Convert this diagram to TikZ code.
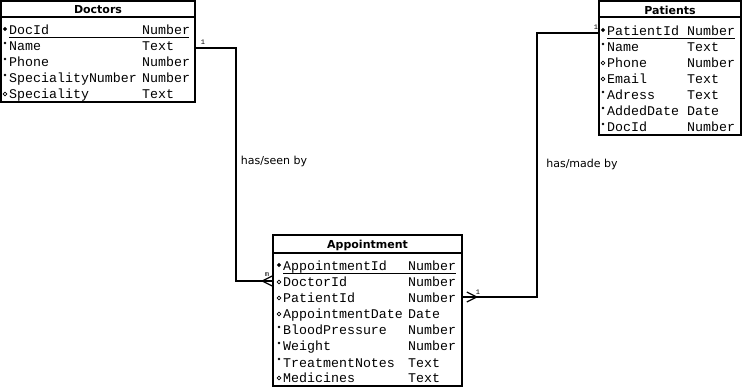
\documentclass[tikz,border=0pt]{standalone}
\usepackage{fontspec}
\setmainfont{DejaVu Sans}
\newfontfamily\codefont{Liberation Mono}
\usetikzlibrary{shapes.geometric}

\begin{document}
\begin{tikzpicture}[x=1pt,y=-1pt]
  \tikzstyle{table}=[rectangle,draw,line width=1.6pt,inner sep=0pt]
  \tikzstyle{title}=[inner sep=0pt,font=\bfseries\fontsize{11}{13}\selectfont]
  \tikzstyle{field}=[anchor=base west,inner sep=0pt,text height=8pt,text depth=2pt,font=\codefont\fontsize{13.3}{16}\selectfont]
  \tikzstyle{pk}=[diamond,fill,inner sep=0pt,minimum size=4.2pt]
  \tikzstyle{req}=[circle,fill,inner sep=0pt,minimum size=2.6pt,yshift=2pt]
  \tikzstyle{opt}=[circle,draw,line width=0.7pt,inner sep=0pt,minimum size=3.8pt,yshift=-1pt]
  \tikzstyle{rule}=[line width=1.6pt]
  \tikzstyle{link}=[line width=1.6pt]
  \tikzstyle{foot}=[line width=1.2pt]
  \tikzstyle{card}=[inner sep=0pt,font=\codefont\fontsize{7}{8}\selectfont]
  \tikzstyle{relation}=[inner sep=0pt,font=\fontsize{11}{13}\selectfont]
  \useasboundingbox (0,0) rectangle (742,387);

  % Doctors table
  \node (doctors) at (98,51.5) [table,minimum width=194pt,minimum height=101pt] {};
  \node (doctors-title) at (98,10) [title] {Doctors};
  \draw [rule] ([yshift=-17pt]doctors.north west) -- ([yshift=-17pt]doctors.north east);
  \foreach \m/\n/\t [count=\i] in {pk/DocId/Number,req/Name/Text,req/Phone/Number,
      req/SpecialityNumber/Number,opt/Speciality/Text} {
    \node (doc-m\i) at (5,13+16*\i) [\m] {};
    \node (doc-n\i) at (9,19+16*\i) [field] {\n};
    \node (doc-t\i) at (142,19+16*\i) [field] {\t};
  }
  \draw [line width=0.8pt] (doc-n1.base west) ++(0,2) -- ++(180,0);

  % Patients table
  \node (patients) at (670,68) [table,minimum width=142pt,minimum height=134pt] {};
  \node (patients-title) at (670,10) [title] {Patients};
  \draw [rule] ([yshift=-17pt]patients.north west) -- ([yshift=-17pt]patients.north east);
  \foreach \m/\n/\t [count=\i] in {pk/PatientId/Number,req/Name/Text,opt/Phone/Number,
      opt/Email/Text,req/Adress/Text,req/AddedDate/Date,req/DocId/Number} {
    \node (pat-m\i) at (603,14+16*\i) [\m] {};
    \node (pat-n\i) at (607,20+16*\i) [field] {\n};
    \node (pat-t\i) at (687,20+16*\i) [field] {\t};
  }
  \draw [line width=0.8pt] (pat-n1.base west) ++(0,2) -- ++(128,0);

  % Appointment table
  \node (appointment) at (367.5,310.5) [table,minimum width=189pt,minimum height=151pt] {};
  \node (appointment-title) at (367.5,245) [title] {Appointment};
  \draw [rule] ([yshift=-19pt]appointment.north west) -- ([yshift=-19pt]appointment.north east);
  \foreach \m/\n/\t [count=\i] in {pk/AppointmentId/Number,opt/DoctorId/Number,opt/PatientId/Number,
      opt/AppointmentDate/Date,req/BloodPressure/Number,req/Weight/Number,
      req/TreatmentNotes/Text,opt/Medicines/Text} {
    \node (app-m\i) at (279,249+16*\i) [\m] {};
    \node (app-n\i) at (283,255+16*\i) [field] {\n};
    \node (app-t\i) at (408,255+16*\i) [field] {\t};
  }
  \draw [line width=0.8pt] (app-n1.base west) ++(0,2) -- ++(173,0);

  % relationships
  \coordinate (doc-foot) at ([yshift=3pt]appointment.west |- app-n2);
  \coordinate (pat-foot) at ([yshift=3pt]appointment.east |- app-n3);
  \draw [link] (doctors.east |- doc-n2) -- ++(40,0) |- (doc-foot);
  \draw [foot] ([xshift=-10pt]doc-foot) -- ([yshift=5pt]doc-foot);
  \draw [foot] ([xshift=-10pt]doc-foot) -- ([yshift=-5pt]doc-foot);
  \draw [link] (patients.west |- pat-n1) -- ++(-61,0) |- (pat-foot);
  \draw [foot] ([xshift=14pt]pat-foot) -- ([xshift=4pt,yshift=5pt]pat-foot);
  \draw [foot] ([xshift=14pt]pat-foot) -- ([xshift=4pt,yshift=-5pt]pat-foot);

  \node (doc-card)  at (203,42)  [card] {1};
  \node (app-card1) at (267,275) [card] {m};
  \node (pat-card)  at (596,27)  [card] {1};
  \node (app-card2) at (478,292) [card] {1};
  \node (seen) at (274,161) [relation] {has/seen by};
  \node (made) at (582,164) [relation] {has/made by};
\end{tikzpicture}
\end{document}
